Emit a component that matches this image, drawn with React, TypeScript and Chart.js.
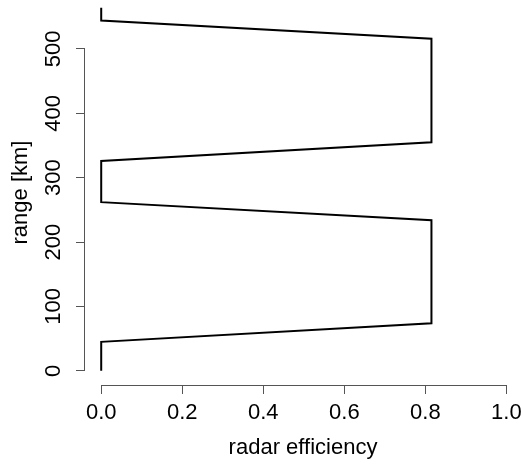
import React, { useEffect, useRef } from "react";
import { Chart, registerables } from "chart.js";

Chart.register(...registerables);

// radar efficiency profile vs range
const efficiency: number[] = [0, 0, 0.815, 0.815, 0, 0, 0.815, 0.815, 0, 0];
const rangeKm: number[] = [0, 45, 74, 234, 262, 326, 355, 516, 544, 564];
const xTicks: number[] = [0, 0.2, 0.4, 0.6, 0.8, 1.0];
const yTicks: number[] = [0, 100, 200, 300, 400, 500];

const FONT = "'Liberation Sans', Arial, Helvetica, sans-serif";
const AXIS_COLOR = "#555555";

const axisLines = {
  id: "rAxisLines",
  afterDraw(chart: any) {
    const ctx = chart.ctx;
    const xs = chart.scales.x;
    const ys = chart.scales.y;
    ctx.save();
    ctx.strokeStyle = AXIS_COLOR;
    ctx.lineWidth = 1;
    ctx.beginPath();
    const yb = Math.round(xs.top) + 0.5;
    ctx.moveTo(xs.getPixelForValue(xTicks[0]), yb);
    ctx.lineTo(xs.getPixelForValue(xTicks[xTicks.length - 1]), yb);
    const xl = Math.round(ys.right) - 0.5;
    ctx.moveTo(xl, ys.getPixelForValue(yTicks[0]));
    ctx.lineTo(xl, ys.getPixelForValue(yTicks[yTicks.length - 1]));
    ctx.stroke();
    ctx.restore();
  },
};

export default function App() {
  const ref = useRef<HTMLCanvasElement | null>(null);
  useEffect(() => {
    document.body.style.margin = "0";
    const canvas = ref.current!;
    const chart = new Chart(canvas, {
      type: "scatter",
      data: {
        datasets: [
          {
            data: efficiency.map((e, i) => ({ x: e, y: rangeKm[i] })),
            showLine: true,
            borderColor: "#000000",
            borderWidth: 2,
            pointRadius: 0,
            fill: false,
            tension: 0,
          },
        ],
      },
      options: {
        animation: false,
        responsive: false,
        maintainAspectRatio: false,
        layout: { padding: 0 },
        plugins: { legend: { display: false }, tooltip: { enabled: false } },
        scales: {
          x: {
            type: "linear",
            position: "bottom",
            min: -0.04,
            max: 1.036,
            afterBuildTicks: (s: any) => {
              s.ticks = xTicks.map((v) => ({ value: v }));
            },
            afterFit: (s: any) => {
              s.height = 79;
              s.paddingLeft = 0;
              s.paddingRight = 0;
            },
            border: { display: false },
            grid: {
              drawOnChartArea: false,
              drawTicks: true,
              tickLength: 9,
              color: AXIS_COLOR,
              lineWidth: 1,
            },
            ticks: {
              color: "#000000",
              font: { family: FONT, size: 22 },
              padding: 6,
              maxRotation: 0,
              minRotation: 0,
              callback: (v: any) => Number(v).toFixed(1),
            },
            title: {
              display: true,
              text: "radar efficiency",
              color: "#000000",
              font: { family: FONT, size: 22 },
              padding: { top: 0, bottom: 3 },
            },
          },
          y: {
            type: "linear",
            position: "left",
            min: -22,
            max: 576,
            afterBuildTicks: (s: any) => {
              s.ticks = yTicks.map((v) => ({ value: v }));
            },
            afterFit: (s: any) => {
              s.width = 85;
              s.paddingTop = 0;
              s.paddingBottom = 0;
            },
            border: { display: false },
            grid: {
              drawOnChartArea: false,
              drawTicks: true,
              tickLength: 9,
              color: AXIS_COLOR,
              lineWidth: 1,
            },
            ticks: {
              color: "#000000",
              font: { family: FONT, size: 22 },
              padding: 4,
              minRotation: 90,
              maxRotation: 90,
              crossAlign: "center",
              callback: (v: any) => String(v),
            },
            title: {
              display: true,
              text: "range [km]",
              color: "#000000",
              font: { family: FONT, size: 22 },
              padding: { top: 8, bottom: 0 },
            },
          },
        },
      },
      plugins: [axisLines],
    });
    return () => chart.destroy();
  }, []);
  return (
    <div style={{ position: "fixed", left: 0, top: 0, width: 521, height: 464, background: "#ffffff" }}>
      <canvas ref={ref} width={521} height={464} style={{ width: 521, height: 464 }} />
    </div>
  );
}
